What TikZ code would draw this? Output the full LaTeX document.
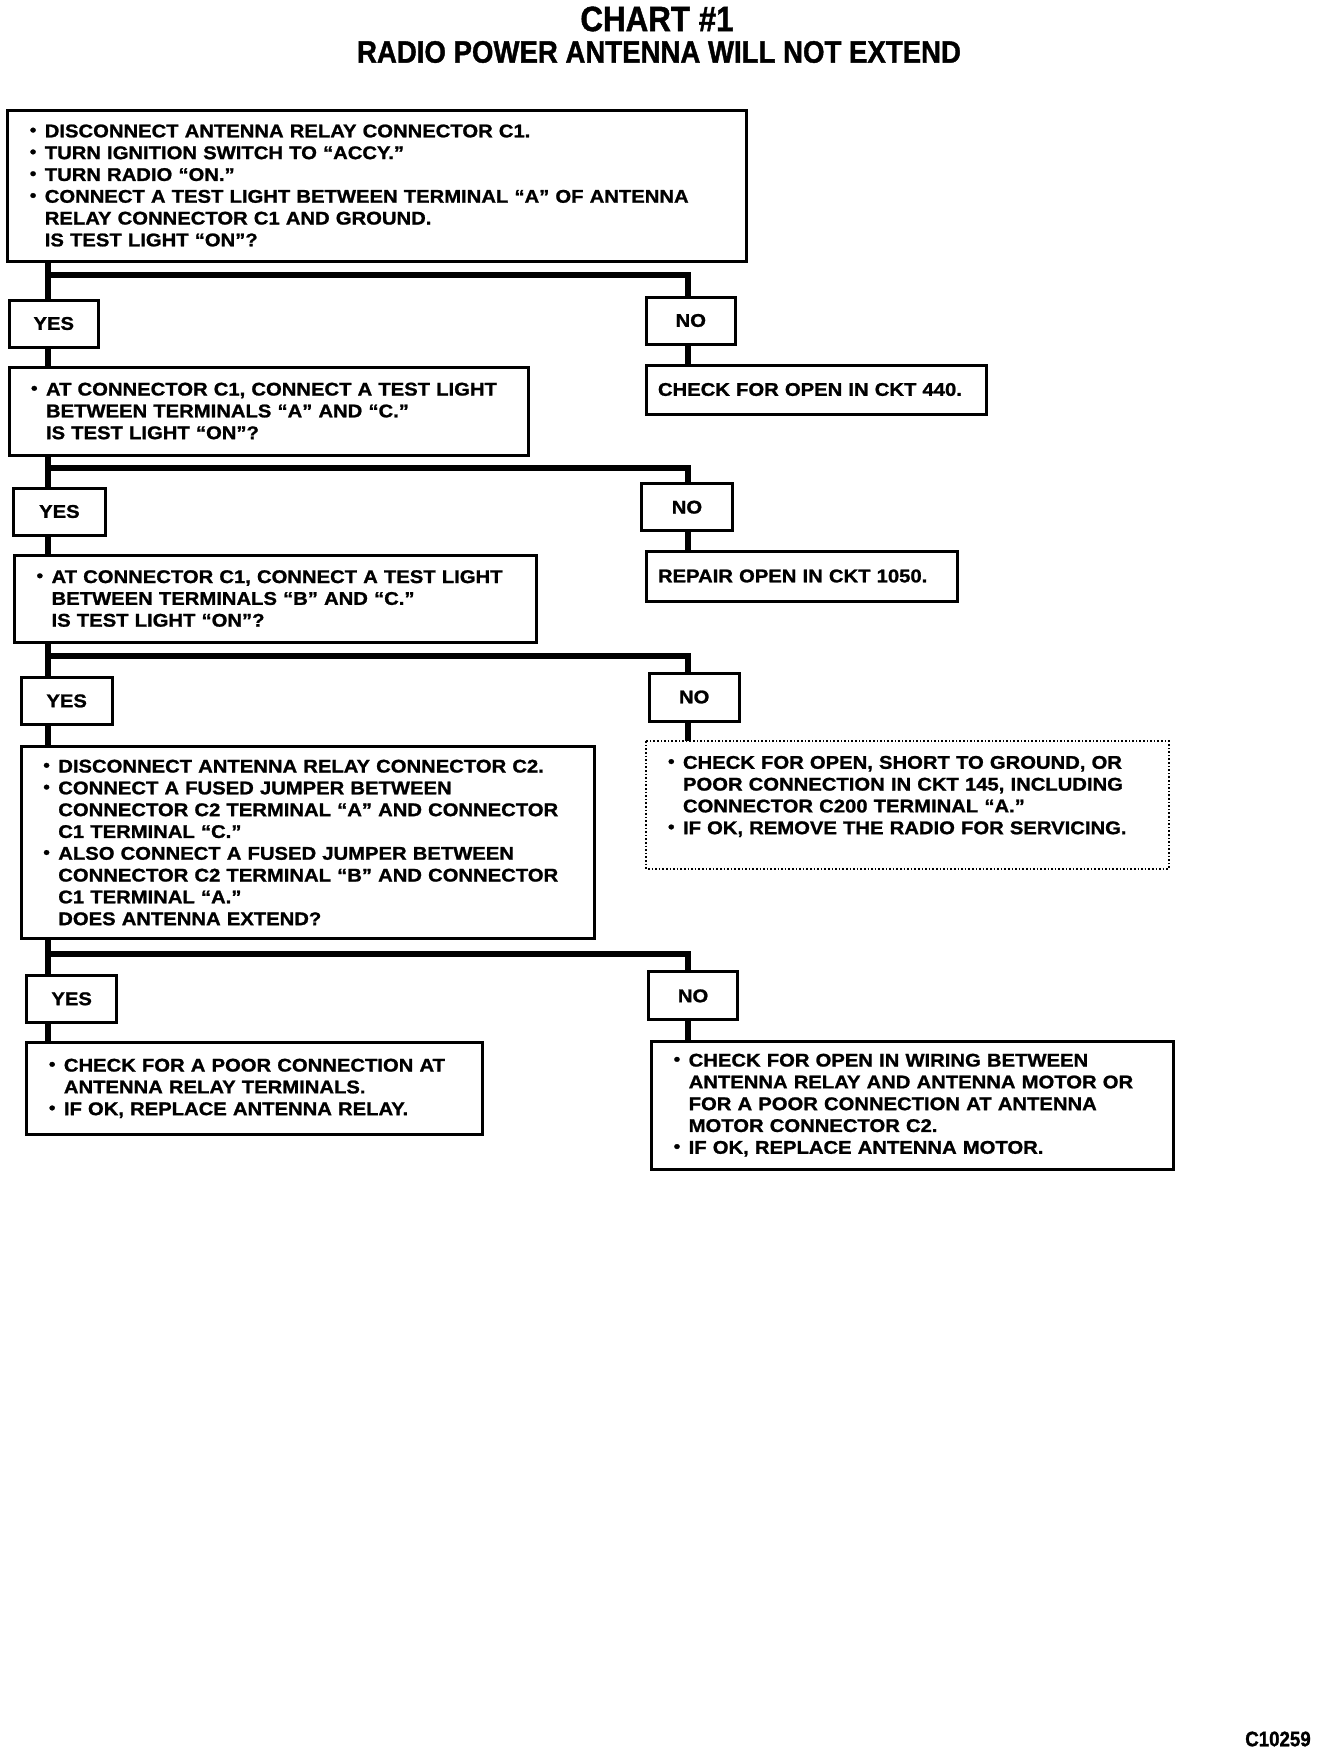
\documentclass[tikz,border=0pt]{standalone}
\usepackage{fontspec}
\usepackage{graphicx}
\setmainfont{Liberation Sans}
\newfontfamily\bodyfont{Liberation Sans}[FakeStretch=1.10, FakeBold=1.2]
\newfontfamily\headfont{Liberation Sans}[FakeStretch=0.89, FakeBold=1.2]
\newcommand{\boxfont}{\bodyfont\bfseries\fontsize{9.2pt}{10.9pt}\selectfont}
% 项目符号（左缩进，圆点悬挂）
\newcommand{\itm}{\leftskip=7.5pt\noindent\llap{\makebox[7.5pt][l]{\raisebox{0.8pt}{\fontsize{8.5pt}{8.5pt}\selectfont •}}}}

\begin{document}
\begin{tikzpicture}[
        x=0.5pt,
        y=-0.5pt,
        stepbox/.style={draw, line width=1.5pt, anchor=north west, outer sep=0pt,
            inner xsep=11pt, inner ysep=3pt, align=left, font=\boxfont},
        notebox/.style={stepbox, inner xsep=6pt},
        ansbox/.style={draw, line width=1.5pt, anchor=north west, outer sep=0pt,
            inner sep=0pt, font=\boxfont},
        link/.style={line width=3pt}
    ]

    \useasboundingbox (0,0) rectangle (1328,1756);

    % ---------- 几何参数 ----------
    \def\tx{48}    % 左侧主干 x
    \def\nx{688}   % NO 分支 x

    % ---------- 标题 ----------
    \node[font=\headfont\bfseries\fontsize{17.6pt}{17.6pt}\selectfont] (title) at (657,19) {CHART \#1};
    \node[font=\headfont\bfseries\fontsize{15.5pt}{15.5pt}\selectfont] (subtitle) at (659,52) {RADIO POWER ANTENNA WILL NOT EXTEND};

    % ---------- 第一步 ----------
    \node[stepbox, text width=347.5pt, minimum height=75.5pt] (q1) at (7.8,110)
        {\itm DISCONNECT ANTENNA RELAY CONNECTOR C1.\par
         \itm TURN IGNITION SWITCH TO “ACCY.”\par
         \itm TURN RADIO “ON.”\par
         \itm CONNECT A TEST LIGHT BETWEEN TERMINAL “A” OF ANTENNA\\
         RELAY CONNECTOR C1 AND GROUND.\\
         IS TEST LIGHT “ON”?\par};
    \node[ansbox, minimum width=44.75pt, minimum height=23.5pt] (yes1) at (9,300) {YES};
    \node[ansbox, minimum width=44.8pt, minimum height=23.5pt] (no1) at (646,297) {NO};
    \node[notebox, text width=158.25pt, minimum height=24.5pt] (r1) at (646,365)
        {CHECK FOR OPEN IN CKT 440.};

    % ---------- 第二步 ----------
    \node[stepbox, text width=237.75pt, minimum height=44pt] (q2) at (9,367)
        {\itm AT CONNECTOR C1, CONNECT A TEST LIGHT\\
         BETWEEN TERMINALS “A” AND “C.”\\
         IS TEST LIGHT “ON”?\par};
    \node[ansbox, minimum width=46pt, minimum height=23.5pt] (yes2) at (13.4,488) {YES};
    \node[ansbox, minimum width=45.35pt, minimum height=23.5pt] (no2) at (641.6,483.7) {NO};
    \node[notebox, text width=143.65pt, minimum height=25pt] (r2) at (646,551)
        {REPAIR OPEN IN CKT 1050.};

    % ---------- 第三步 ----------
    \node[stepbox, text width=238.85pt, minimum height=43.5pt] (q3) at (14.6,555)
        {\itm AT CONNECTOR C1, CONNECT A TEST LIGHT\\
         BETWEEN TERMINALS “B” AND “C.”\\
         IS TEST LIGHT “ON”?\par};
    \node[ansbox, minimum width=45.35pt, minimum height=23.5pt] (yes3) at (21.3,677.4) {YES};
    \node[ansbox, minimum width=44.8pt, minimum height=24pt] (no3) at (649.4,673) {NO};
    \node[stepbox, text width=239.5pt, minimum height=63.85pt, inner ysep=7.2pt, text depth=42.7pt,
        draw=none] (r3) at (646,741.2)
        {\itm CHECK FOR OPEN, SHORT TO GROUND, OR\\
         POOR CONNECTION IN CKT 145, INCLUDING\\
         CONNECTOR C200 TERMINAL “A.”\par
         \itm IF OK, REMOVE THE RADIO FOR SERVICING.\par};
    % 虚线边框
    \draw[densely dotted, line width=0.8pt] (r3.north west) rectangle (r3.south east);

    % ---------- 第四步 ----------
    \node[stepbox, text width=264.65pt, minimum height=95.8pt] (q4) at (21.3,746.7)
        {\itm DISCONNECT ANTENNA RELAY CONNECTOR C2.\par
         \itm CONNECT A FUSED JUMPER BETWEEN\\
         CONNECTOR C2 TERMINAL “A” AND CONNECTOR\\
         C1 TERMINAL “C.”\par
         \itm ALSO CONNECT A FUSED JUMPER BETWEEN\\
         CONNECTOR C2 TERMINAL “B” AND CONNECTOR\\
         C1 TERMINAL “A.”\\
         DOES ANTENNA EXTEND?\par};
    \node[ansbox, minimum width=44.75pt, minimum height=23.5pt] (yes4) at (26.9,975.3) {YES};
    \node[ansbox, minimum width=44.8pt, minimum height=24pt] (no4) at (648.3,971.9) {NO};
    \node[stepbox, text width=205.85pt, minimum height=45.95pt] (r4) at (26.9,1042.4)
        {\itm CHECK FOR A POOR CONNECTION AT\\
         ANTENNA RELAY TERMINALS.\par
         \itm IF OK, REPLACE ANTENNA RELAY.\par};
    \node[stepbox, text width=238.85pt, minimum height=63.85pt] (r5) at (651.7,1041.3)
        {\itm CHECK FOR OPEN IN WIRING BETWEEN\\
         ANTENNA RELAY AND ANTENNA MOTOR OR\\
         FOR A POOR CONNECTION AT ANTENNA\\
         MOTOR CONNECTOR C2.\par
         \itm IF OK, REPLACE ANTENNA MOTOR.\par};

    % ---------- 连线 ----------
    \coordinate (nx) at (\nx,0);
    \coordinate (b1) at (\tx,275);
    \coordinate (b2) at (\tx,468);
    \coordinate (b3) at (\tx,656);
    \coordinate (b4) at (\tx,954);

    \draw[link] (q1.south -| b1) -- (yes1.north -| b1);
    \draw[link] (b1) -| (no1.north -| nx);
    \draw[link] (yes1.south -| b1) -- (q2.north -| b1);
    \draw[link] (no1.south -| nx) -- (r1.north -| nx);

    \draw[link] (q2.south -| b2) -- (yes2.north -| b2);
    \draw[link] (b2) -| (no2.north -| nx);
    \draw[link] (yes2.south -| b2) -- (q3.north -| b2);
    \draw[link] (no2.south -| nx) -- (r2.north -| nx);

    \draw[link] (q3.south -| b3) -- (yes3.north -| b3);
    \draw[link] (b3) -| (no3.north -| nx);
    \draw[link] (yes3.south -| b3) -- (q4.north -| b3);
    \draw[link] (no3.south -| nx) -- (r3.north -| nx);

    \draw[link] (q4.south -| b4) -- (yes4.north -| b4);
    \draw[link] (b4) -| (no4.north -| nx);
    \draw[link] (yes4.south -| b4) -- (r4.north -| b4);
    \draw[link] (no4.south -| nx) -- (r5.north -| nx);

    % ---------- 图号 ----------
    \node[font=\headfont\bfseries\fontsize{10.5pt}{10.5pt}\selectfont] (code) at (1278,1739) {C10259};

\end{tikzpicture}
\end{document}
